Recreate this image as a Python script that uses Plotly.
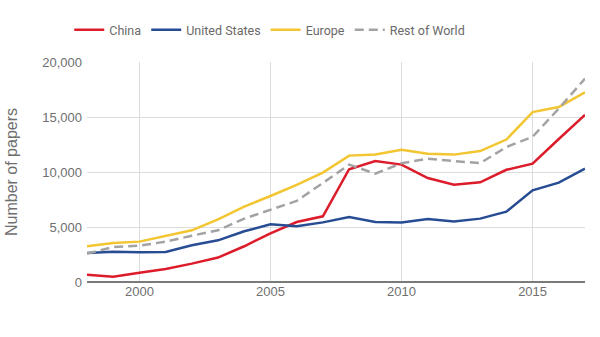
import plotly.graph_objects as go

years = list(range(1998, 2018))
china = [670, 480, 850, 1180, 1670, 2220, 3250, 4430, 5450, 5970,
         10250, 11000, 10670, 9450, 8850, 9060, 10200, 10760, 13000, 15200]
united_states = [2640, 2760, 2700, 2730, 3340, 3790, 4610, 5240, 5060, 5420,
                 5910, 5450, 5420, 5730, 5490, 5760, 6400, 8340, 9030, 10300]
europe = [3250, 3550, 3670, 4210, 4700, 5700, 6850, 7820, 8820, 9940,
          11490, 11600, 12030, 11670, 11580, 11900, 12950, 15450, 15900, 17250]
rest_of_world = [2580, 3180, 3300, 3670, 4210, 4700, 5760, 6580, 7370, 9000,
                 10670, 9850, 10800, 11200, 10970, 10800, 12270, 13200, 15760, 18500]

series = [
    ("China", china, "#dc1c2a", "solid"),
    ("United States", united_states, "#274c93", "solid"),
    ("Europe", europe, "#f2c531", "solid"),
    ("Rest of World", rest_of_world, "#a3a3a3", "9px,5px"),
]

fig = go.Figure()
for name, vals, color, dash in series:
    fig.add_trace(go.Scatter(x=years, y=vals, name=name, mode="lines",
                             line=dict(color=color, width=2.5, dash=dash)))

fig.update_layout(
    width=600, height=337,
    margin=dict(l=87, r=15, t=62, b=55, autoexpand=False),
    paper_bgcolor="white", plot_bgcolor="white",
    font=dict(family="Liberation Sans, Arial, sans-serif", color="#6f6f6f", size=12),
    legend=dict(orientation="h", x=0.367, xanchor="center", y=1.145, yanchor="middle",
                font=dict(family="Roboto, sans-serif", size=12.5, color="#6a6a6a"),
                itemwidth=30, tracegroupgap=0),
    xaxis=dict(range=[1998, 2017], tickvals=[2000, 2005, 2010, 2015],
               showgrid=True, gridcolor="#dcdcdc", gridwidth=1,
               zeroline=False, showline=False, ticks="",
               tickfont=dict(size=13, color="#6f6f6f")),
    yaxis=dict(range=[0, 20000], tickvals=[0, 5000, 10000, 15000, 20000],
               tickformat=",", showgrid=True, gridcolor="#dcdcdc", gridwidth=1,
               zeroline=True, zerolinecolor="#7a7a7a", zerolinewidth=2,
               showline=False, ticks="", ticklabelstandoff=4,
               tickfont=dict(size=13, color="#6f6f6f"),
               title=dict(text="Number of papers", standoff=20,
                          font=dict(size=16, color="#6f6f6f"))),
)

fig.write_html("out.html")
